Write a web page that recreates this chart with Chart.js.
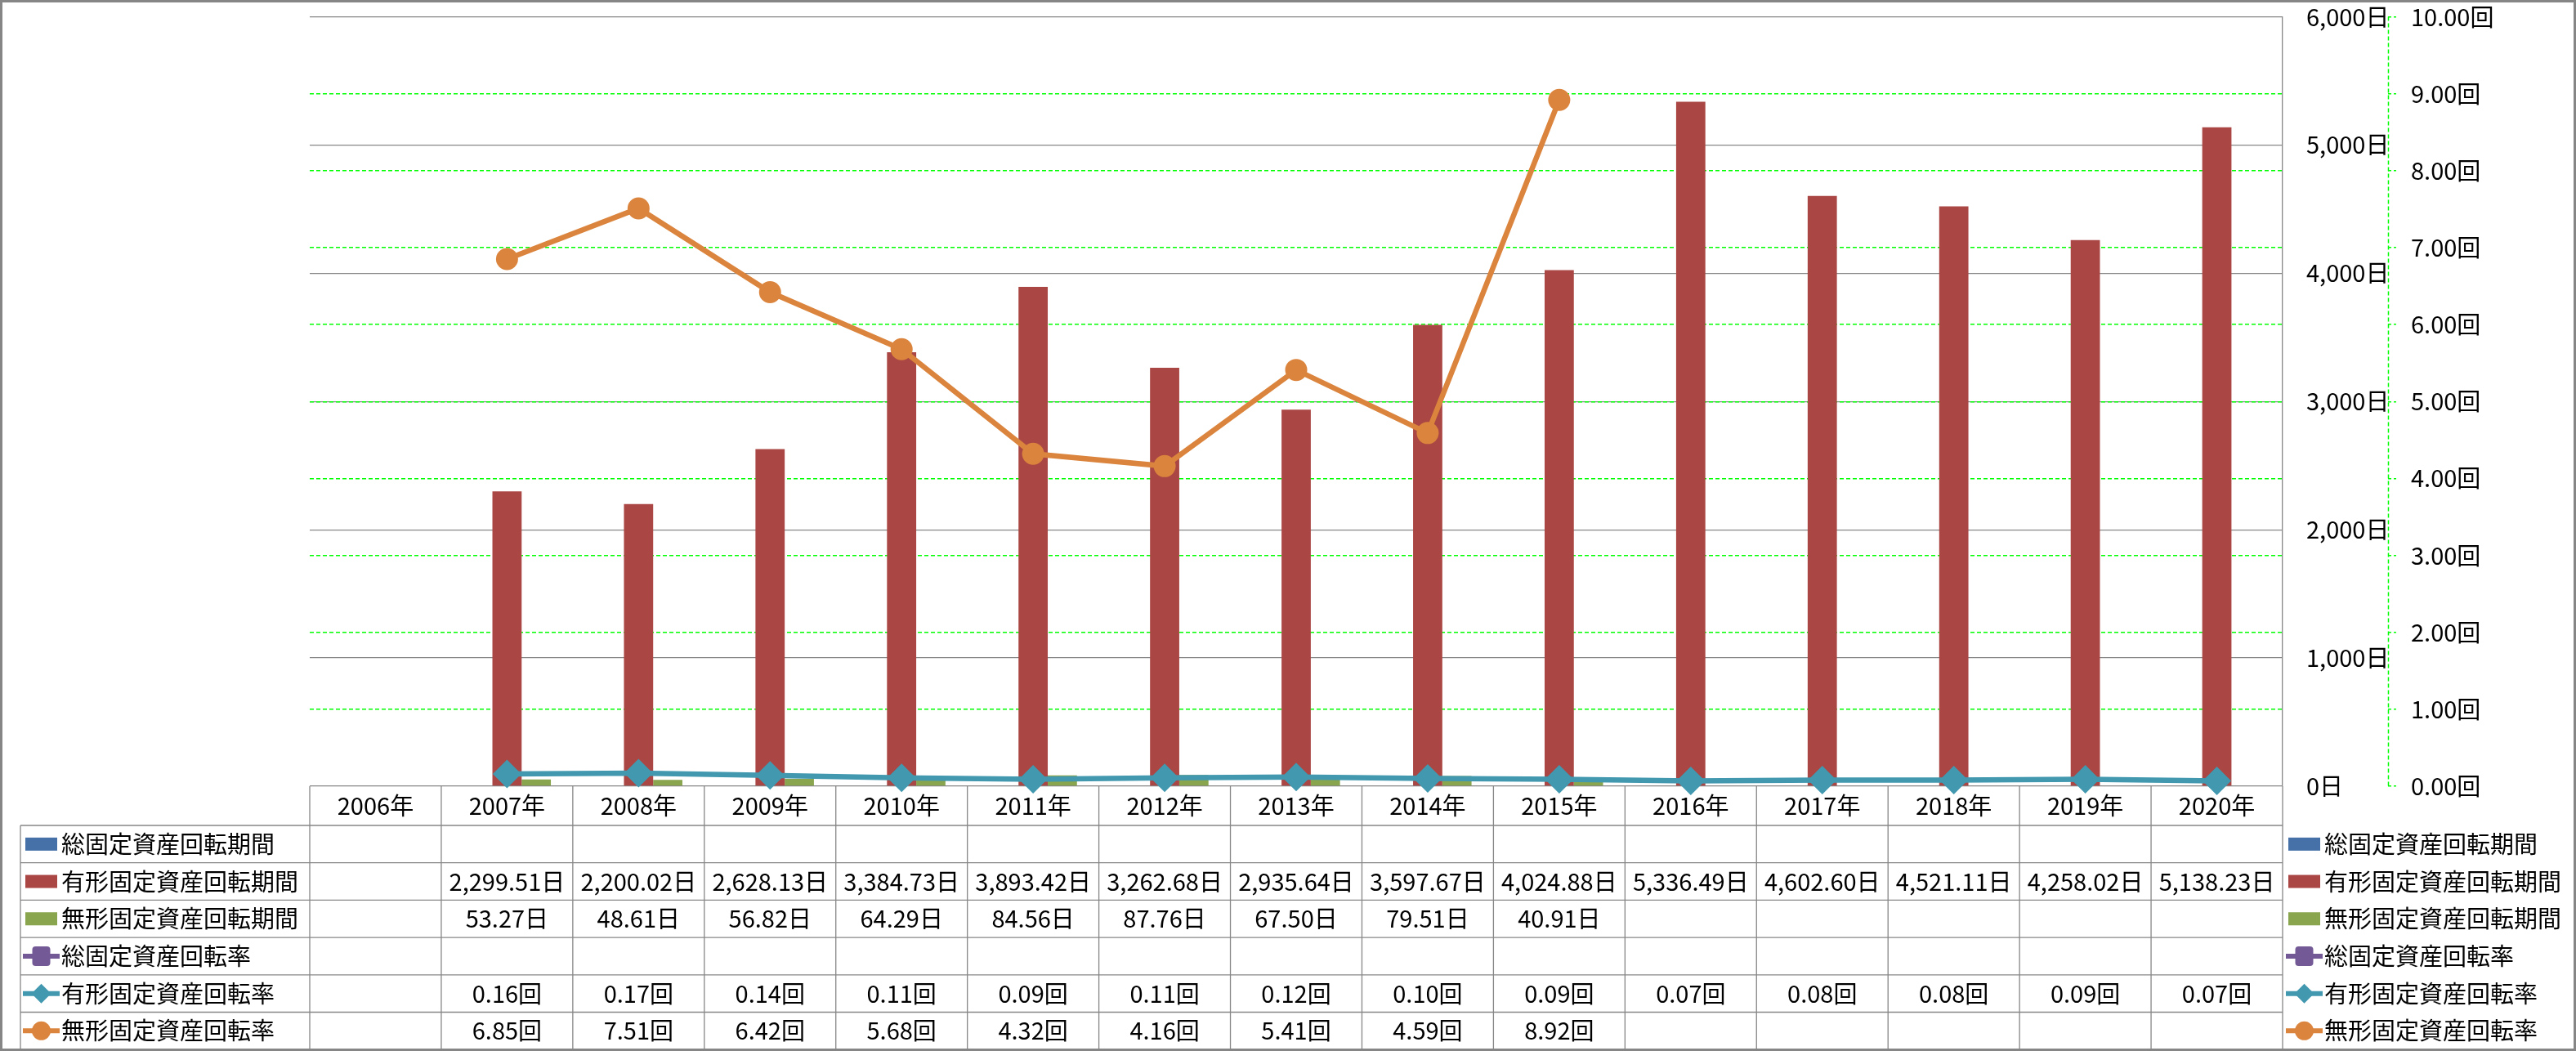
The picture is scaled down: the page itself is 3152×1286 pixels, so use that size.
<!DOCTYPE html>
<html>
<head>
<meta charset="utf-8">
<script src="https://cdn.jsdelivr.net/npm/chart.js@4.4.1/dist/chart.umd.min.js"></script>
<style>
  html, body { margin: 0; padding: 0; background: #fff; }
  #wrap { width: 3152px; height: 1286px; }
</style>
</head>
<body>
<div id="wrap"><canvas id="chart" width="3152" height="1286"></canvas></div>
<script>
const years = ['2006年', '2007年', '2008年', '2009年', '2010年', '2011年', '2012年', '2013年', '2014年', '2015年', '2016年', '2017年', '2018年', '2019年', '2020年'];

const totalPeriod = [null, null, null, null, null, null, null, null, null, null, null, null, null, null, null];
const tangiblePeriod = [null, 2299.51, 2200.02, 2628.13, 3384.73, 3893.42, 3262.68, 2935.64, 3597.67, 4024.88, 5336.49, 4602.60, 4521.11, 4258.02, 5138.23];
const intangiblePeriod = [null, 53.27, 48.61, 56.82, 64.29, 84.56, 87.76, 67.50, 79.51, 40.91, null, null, null, null, null];

const totalRate = [null, null, null, null, null, null, null, null, null, null, null, null, null, null, null];
const tangibleRate = [null, 0.16, 0.17, 0.14, 0.11, 0.09, 0.11, 0.12, 0.10, 0.09, 0.07, 0.08, 0.08, 0.09, 0.07];
const intangibleRate = [null, 6.85, 7.51, 6.42, 5.68, 4.32, 4.16, 5.41, 4.59, 8.92, null, null, null, null, null];

const seriesNames = ['総固定資産回転期間', '有形固定資産回転期間', '無形固定資産回転期間', '総固定資産回転率', '有形固定資産回転率', '無形固定資産回転率'];

const FONT = '29px "Noto Sans CJK JP"';
const GRID = '#878787';
const BLUE = '#4671A8';
const RED = '#AA4643';
const GREEN = '#89A54E';
const PURPLE = '#735A96';
const TEAL = '#4198AF';
const ORANGE = '#DB843D';

function fmtDays(v) {
    if (v == null) return '';
    return v.toLocaleString('en-US', { minimumFractionDigits: 2, maximumFractionDigits: 2 }) + '日';
}

function fmtRate(v) {
    if (v == null) return '';
    return v.toFixed(2) + '回';
}

// rows of the data table, same order as the legend
const tableRows = [
    { name: seriesNames[0], values: totalPeriod, fmt: fmtDays, color: BLUE, kind: 'bar' },
    { name: seriesNames[1], values: tangiblePeriod, fmt: fmtDays, color: RED, kind: 'bar' },
    { name: seriesNames[2], values: intangiblePeriod, fmt: fmtDays, color: GREEN, kind: 'bar' },
    { name: seriesNames[3], values: totalRate, fmt: fmtRate, color: PURPLE, kind: 'square' },
    { name: seriesNames[4], values: tangibleRate, fmt: fmtRate, color: TEAL, kind: 'diamond' },
    { name: seriesNames[5], values: intangibleRate, fmt: fmtRate, color: ORANGE, kind: 'circle' }
];

function drawKey(ctx, row, x0, cy) {
    ctx.save();
    ctx.fillStyle = row.color;
    ctx.strokeStyle = row.color;
    if (row.kind === 'bar') {
        ctx.fillRect(x0, cy - 8, 39, 16);
    } else {
        ctx.lineWidth = 6;
        ctx.beginPath();
        ctx.moveTo(x0 - 3, cy);
        ctx.lineTo(x0 + 42, cy);
        ctx.stroke();
        const mx = x0 + 19.5;
        ctx.beginPath();
        if (row.kind === 'circle') {
            ctx.arc(mx, cy, 11.5, 0, Math.PI * 2);
        } else if (row.kind === 'diamond') {
            ctx.moveTo(mx, cy - 12);
            ctx.lineTo(mx + 12, cy);
            ctx.lineTo(mx, cy + 12);
            ctx.lineTo(mx - 12, cy);
            ctx.closePath();
        } else {
            ctx.roundRect(mx - 11, cy - 12, 22, 24, 4);
        }
        ctx.fill();
    }
    ctx.restore();
}

const tablePlugin = {
    id: 'dataTable',
    beforeDatasetsDraw(chart) {
        const ctx = chart.ctx;
        const xs = chart.scales.x;
        const area = chart.chartArea;
        const step = xs.getPixelForValue(1) - xs.getPixelForValue(0);
        const top = area.bottom;
        const headH = 48;
        const rowH = 45.7;
        const labelLeft = 25;
        const bottom = top + headH + rowH * tableRows.length;

        ctx.save();
        ctx.strokeStyle = GRID;
        ctx.lineWidth = 1.3;
        ctx.beginPath();
        for (let r = 0; r <= tableRows.length; r++) {
            const y = top + headH + r * rowH;
            ctx.moveTo(labelLeft, y);
            ctx.lineTo(area.right, y);
        }
        for (let i = 0; i <= years.length; i++) {
            const x = area.left + i * step;
            ctx.moveTo(x, top);
            ctx.lineTo(x, bottom);
        }
        ctx.moveTo(labelLeft, top + headH);
        ctx.lineTo(labelLeft, bottom);
        ctx.stroke();

        ctx.fillStyle = '#000';
        ctx.font = FONT;
        ctx.textBaseline = 'middle';
        ctx.textAlign = 'center';
        years.forEach((label, i) => {
            ctx.fillText(label, xs.getPixelForValue(i), top + headH / 2);
        });

        tableRows.forEach((row, r) => {
            const cy = top + headH + r * rowH + rowH / 2;
            ctx.textAlign = 'center';
            row.values.forEach((v, i) => {
                ctx.fillText(row.fmt(v), xs.getPixelForValue(i), cy);
            });
            ctx.textAlign = 'left';
            // table row label
            drawKey(ctx, row, 31, cy);
            ctx.fillText(row.name, 75, cy);
            // legend on the right
            drawKey(ctx, row, 2800, cy);
            ctx.fillText(row.name, 2844, cy);
        });

        // secondary axis line (dashed)
        const y1 = chart.scales.y1;
        ctx.strokeStyle = '#00FF00';
        ctx.lineWidth = 1.5;
        ctx.setLineDash([5, 3]);
        ctx.beginPath();
        ctx.moveTo(y1.left + 0.5, y1.getPixelForValue(10));
        ctx.lineTo(y1.left + 0.5, y1.getPixelForValue(0));
        ctx.stroke();
        ctx.restore();
    },
    afterDraw(chart) {
        const ctx = chart.ctx;
        ctx.save();
        ctx.strokeStyle = '#868686';
        ctx.lineWidth = 3;
        ctx.strokeRect(1.5, 1.5, chart.width - 3, chart.height - 3);
        ctx.restore();
    }
};

new Chart(document.getElementById('chart'), {
    data: {
        labels: years,
        datasets: [
            {
                type: 'line',
                label: seriesNames[3],
                data: totalRate,
                yAxisID: 'y1',
                borderColor: PURPLE,
                backgroundColor: PURPLE,
                borderWidth: 6.5,
                pointStyle: 'rect',
                pointRadius: 14,
                clip: false
            },
            {
                type: 'line',
                label: seriesNames[4],
                data: tangibleRate,
                yAxisID: 'y1',
                borderColor: TEAL,
                backgroundColor: TEAL,
                borderWidth: 6.5,
                pointStyle: 'rectRot',
                pointRadius: 17.5,
                pointBorderWidth: 0,
                tension: 0,
                clip: false
            },
            {
                type: 'line',
                label: seriesNames[5],
                data: intangibleRate,
                yAxisID: 'y1',
                borderColor: ORANGE,
                backgroundColor: ORANGE,
                borderWidth: 6.5,
                pointStyle: 'circle',
                pointRadius: 13.5,
                pointBorderWidth: 0,
                tension: 0,
                clip: false
            },
            {
                type: 'bar',
                label: seriesNames[0],
                data: totalPeriod,
                yAxisID: 'y',
                backgroundColor: BLUE,
                categoryPercentage: 3 / 4.5,
                barPercentage: 1
            },
            {
                type: 'bar',
                label: seriesNames[1],
                data: tangiblePeriod,
                yAxisID: 'y',
                backgroundColor: RED,
                categoryPercentage: 3 / 4.5,
                barPercentage: 1
            },
            {
                type: 'bar',
                label: seriesNames[2],
                data: intangiblePeriod,
                yAxisID: 'y',
                backgroundColor: GREEN,
                categoryPercentage: 3 / 4.5,
                barPercentage: 1
            }
        ]
    },
    options: {
        responsive: false,
        devicePixelRatio: 1,
        animation: false,
        layout: {
            padding: { left: 379, top: 20, right: 0, bottom: 324 }
        },
        plugins: {
            legend: { display: false },
            tooltip: { enabled: false }
        },
        scales: {
            x: {
                type: 'category',
                offset: true,
                display: false
            },
            y: {
                position: 'right',
                weight: 0,
                min: 0,
                max: 6000,
                ticks: {
                    stepSize: 1000,
                    padding: 29,
                    color: '#000',
                    font: { family: 'Noto Sans CJK JP', size: 29 },
                    callback: v => v.toLocaleString('en-US') + '日'
                },
                grid: { color: GRID, lineWidth: 1.3, drawTicks: false },
                border: { display: true, color: GRID, width: 1.3 },
                afterFit: s => { s.width = 129; s.paddingTop = 0; s.paddingBottom = 0; }
            },
            y1: {
                position: 'right',
                weight: 1,
                min: 0,
                max: 10,
                ticks: {
                    stepSize: 1,
                    padding: 18,
                    color: '#000',
                    font: { family: 'Noto Sans CJK JP', size: 29 },
                    callback: v => v.toFixed(2) + '回'
                },
                grid: {
                    color: c => (c.tick && (c.tick.value === 0 || c.tick.value === 10)) ? 'rgba(0,0,0,0)' : '#00FF00',
                    lineWidth: 1.5,
                    drawTicks: true,
                    tickLength: 10,
                    tickColor: '#00FF00',
                    tickBorderDash: [4, 3]
                },
                border: { display: false, dash: [5, 3] },
                afterFit: s => { s.width = 230; s.paddingTop = 0; s.paddingBottom = 0; }
            }
        }
    },
    plugins: [tablePlugin]
});
</script>
</body>
</html>
